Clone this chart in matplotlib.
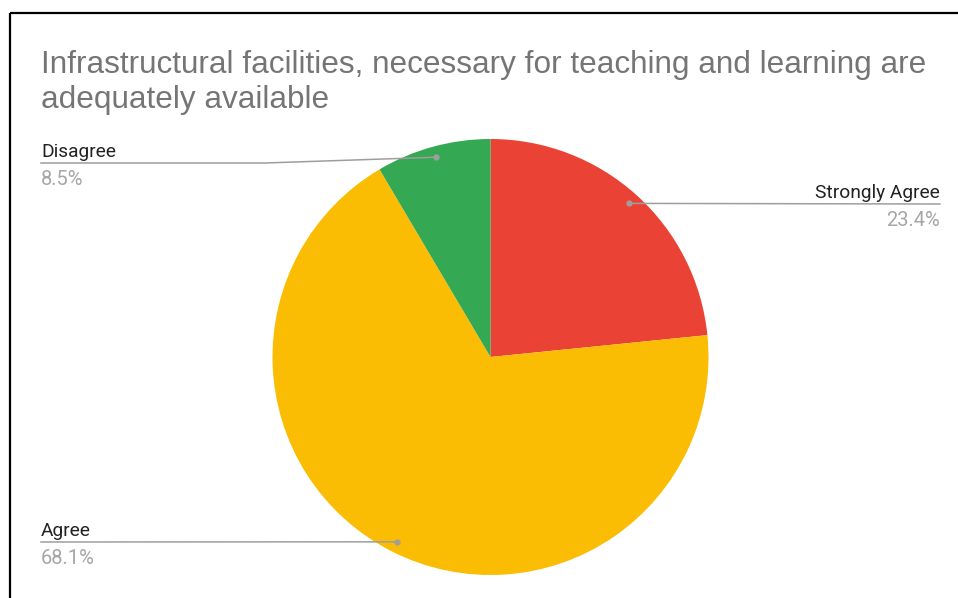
import numpy as np
import matplotlib.pyplot as plt

# data
labels = ["Strongly Agree", "Agree", "Disagree"]
values = [23.4, 68.1, 8.5]
colors = ["#EA4335", "#FBBC04", "#34A853"]
title = "Infrastructural facilities, necessary for teaching and learning are\nadequately available"

W, H = 958, 598
fig = plt.figure(figsize=(W / 100, H / 100), dpi=100)
ax = fig.add_axes([0, 0, 1, 1])

cx, cy, R = 490.5, H - 357, 218
wedges, _ = ax.pie(values, colors=colors, startangle=90, counterclock=False,
                   center=(cx, cy), radius=R, frame=True,
                   wedgeprops=dict(linewidth=0, antialiased=True))
ax.set_xlim(0, W)
ax.set_ylim(0, H)
ax.set_aspect("equal")
ax.axis("off")

# frame (left + top only, the rest is cropped)
ax.plot([10.5, 10.5], [0, H - 12.5], color="black", lw=1.6, solid_capstyle="butt")
ax.plot([10.5, W], [H - 12.5, H - 12.5], color="black", lw=1.6, solid_capstyle="butt")

ax.text(41, H - 50, title, fontsize=22.7, color="#757575", va="top", ha="left",
        family="Liberation Sans", linespacing=1.22)

# label layout: (line y, text x, align, bend x)
layout = {
    "Strongly Agree": (204, 940, "right", None),
    "Agree": (542, 41, "left", None),
    "Disagree": (163, 41, "left", 265),
}

for w, lab, val in zip(wedges, labels, values):
    mid = np.deg2rad((w.theta1 + w.theta2) / 2)
    dx = cx + 0.95 * R * np.cos(mid)
    dy = cy + 0.95 * R * np.sin(mid)
    ly, tx, ha, bend = layout[lab]
    ly = H - ly
    if bend is None:
        xs, ys = [tx, dx], [ly, dy]
    else:
        xs, ys = [tx, bend, dx], [ly, ly, dy]
    ax.plot(xs, ys, color="#9e9e9e", lw=1.1)
    ax.plot([dx], [dy], "o", color="#9e9e9e", ms=4.5, mec="none")
    ax.text(tx, ly + 6, lab, ha=ha, va="baseline", fontsize=13.8,
            color="#222222", family="Roboto")
    ax.text(tx, ly - 7, f"{val:.1f}%", ha=ha, va="top", fontsize=14.5,
            color="#a6a6a6", family="Roboto")

fig.savefig("out.png", dpi=100, facecolor="white")
